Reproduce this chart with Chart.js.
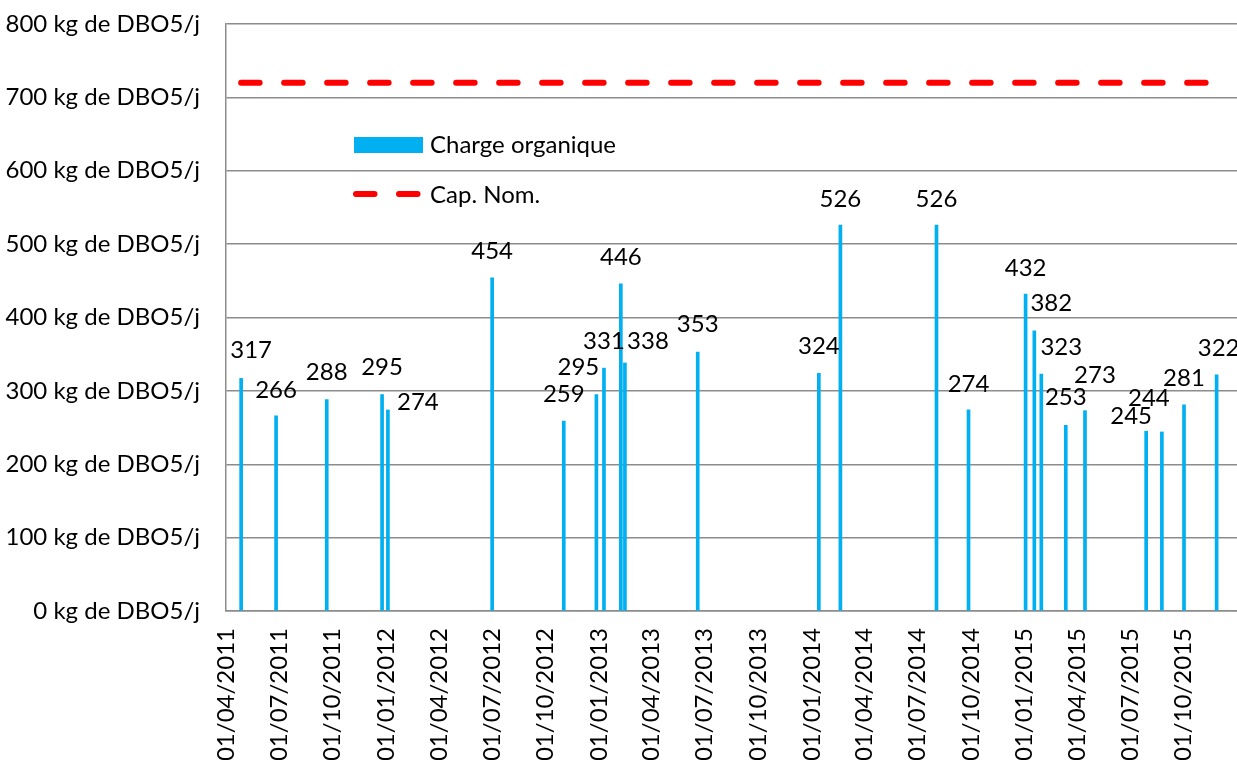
<!DOCTYPE html>
<html>
<head>
<meta charset="utf-8">
<script src="https://cdn.jsdelivr.net/npm/chart.js@4.4.1/dist/chart.umd.min.js"></script>
<style>
  html, body { margin: 0; padding: 0; background: #fff; }
  #wrap { width: 1237px; height: 760px; }
</style>
</head>
<body>
<div id="wrap"><canvas id="graf" width="1237" height="760"></canvas></div>
<script>
// dates des mesures (jj/mm/aaaa) et charge organique en kg DBO5/j
var dates = ['27/04/2011', '26/06/2011', '21/09/2011', '25/12/2011', '04/01/2012',
             '01/07/2012', '01/11/2012', '27/12/2012', '09/01/2013', '07/02/2013',
             '14/02/2013', '19/06/2013', '13/01/2014', '19/02/2014', '03/08/2014',
             '27/09/2014', '03/01/2015', '18/01/2015', '30/01/2015', '13/03/2015',
             '15/04/2015', '29/07/2015', '25/08/2015', '02/10/2015', '27/11/2015'];
var charge = [317, 266, 288, 295, 274,
              454, 259, 295, 331, 446,
              338, 353, 324, 526, 526,
              274, 432, 382, 323, 253,
              273, 245, 244, 281, 322];

// capacite nominale
var capDates = ['27/04/2011', '27/11/2015'];
var capNom = [720, 720];

// axes
var xTickLabels = ['01/04/2011', '01/07/2011', '01/10/2011', '01/01/2012', '01/04/2012',
                   '01/07/2012', '01/10/2012', '01/01/2013', '01/04/2013', '01/07/2013',
                   '01/10/2013', '01/01/2014', '01/04/2014', '01/07/2014', '01/10/2014',
                   '01/01/2015', '01/04/2015', '01/07/2015', '01/10/2015'];
var xMin = '01/04/2011';
var xMax = '01/01/2016';
var yMax = 800;
var yStep = 100;
var unite = ' kg de DBO5/j';

// decalage manuel des etiquettes [dx, dy] (comme dans le classeur)
var decalEtiq = [[10, -1], [0, 1], [0, 0], [0, 0], [30, 19],
                 [0, 0], [0, 0], [-18, 0], [0, 0], [0, 1],
                 [23, 5], [0, -1], [0, 0], [0, 1], [0, 1],
                 [0, 1], [0, 1], [17, 0], [20, 0], [0, -1],
                 [10, -8], [-15, 12], [-13, -7], [0, 0], [2, 1]];

var BLEU = '#00B0F0';
var ROUGE = '#FF0000';
var GRIS = '#8c8c8c';
var FONT = 'Lato';

function jour(s) {
    var p = s.split('/');
    var t = Date.UTC(+p[2], +p[1] - 1, +p[0]);
    var p0 = xMin.split('/');
    return Math.round((t - Date.UTC(+p0[2], +p0[1] - 1, +p0[0])) / 86400000);
}

function dateTexte(n) {
    var p0 = xMin.split('/');
    var d = new Date(Date.UTC(+p0[2], +p0[1] - 1, +p0[0]) + n * 86400000);
    var dd = ('0' + d.getUTCDate()).slice(-2);
    var mm = ('0' + (d.getUTCMonth() + 1)).slice(-2);
    return dd + '/' + mm + '/' + d.getUTCFullYear();
}

var pointsCharge = [];
for (var i in dates) {
    pointsCharge.push({ x: jour(dates[i]), y: charge[i] });
}
var pointsCap = [];
for (var j in capDates) {
    pointsCap.push({ x: jour(capDates[j]), y: capNom[j] });
}

// etiquettes de valeurs au-dessus des barres
var etiquettes = {
    id: 'etiquettes',
    afterDatasetsDraw: function (chart) {
        var ctx = chart.ctx;
        var meta = chart.getDatasetMeta(0);
        ctx.save();
        ctx.font = '24px ' + FONT;
        ctx.fillStyle = '#000';
        ctx.textAlign = 'center';
        ctx.textBaseline = 'middle';
        meta.data.forEach(function (bar, k) {
            var d = decalEtiq[k] || [0, 0];
            ctx.fillText(String(charge[k]), bar.x + d[0], bar.y - 27 + d[1]);
        });
        ctx.restore();
    }
};

// legende dans la zone de tracé
var legende = {
    id: 'legende',
    afterDraw: function (chart) {
        var ctx = chart.ctx;
        var a = chart.chartArea;
        var x0 = a.left + 128;
        ctx.save();
        ctx.fillStyle = BLEU;
        ctx.fillRect(x0, 137, 69, 16);

        ctx.strokeStyle = ROUGE;
        ctx.lineWidth = 6;
        ctx.lineCap = 'round';
        ctx.setLineDash([18.5, 24.5]);
        ctx.beginPath();
        ctx.moveTo(x0 + 2, 194);
        ctx.lineTo(x0 + 64, 194);
        ctx.stroke();
        ctx.setLineDash([]);

        ctx.font = '24px ' + FONT;
        ctx.fillStyle = '#000';
        ctx.textAlign = 'left';
        ctx.textBaseline = 'middle';
        ctx.fillText('Charge organique', x0 + 76, 145);
        ctx.fillText('Cap. Nom.', x0 + 76, 195);
        ctx.restore();
    }
};

var ctx = document.getElementById('graf');

new Chart(ctx, {
    type: 'bar',
    data: {
        datasets: [{
            type: 'bar',
            label: 'Charge organique',
            data: pointsCharge,
            backgroundColor: BLEU,
            borderWidth: 0,
            barThickness: 3,
            grouped: false,
            order: 2
        }, {
            type: 'line',
            label: 'Cap. Nom.',
            data: pointsCap,
            borderColor: ROUGE,
            borderWidth: 6,
            borderDash: [18.5, 24.5],
            borderCapStyle: 'round',
            pointRadius: 0,
            fill: false,
            order: 1
        }]
    },
    options: {
        responsive: false,
        animation: false,
        layout: { padding: { top: 24, right: 0, bottom: 0, left: 0 } },
        plugins: {
            legend: { display: false },
            tooltip: { enabled: false }
        },
        scales: {
            x: {
                type: 'linear',
                min: jour(xMin),
                max: jour(xMax),
                offset: false,
                grid: { display: false, drawTicks: false },
                border: { display: true, color: GRIS, width: 1.5 },
                ticks: {
                    autoSkip: false,
                    minRotation: 90,
                    maxRotation: 90,
                    padding: 17,
                    color: '#000',
                    font: { family: FONT, size: 24 },
                    callback: function (v) { return dateTexte(v); }
                },
                afterBuildTicks: function (scale) {
                    scale.ticks = xTickLabels.map(function (t) { return { value: jour(t) }; });
                },
                afterFit: function (scale) {
                    scale.height = 149;
                    scale.paddingLeft = 0;
                    scale.paddingRight = 0;
                }
            },
            y: {
                min: 0,
                max: yMax,
                grid: { color: GRIS, lineWidth: 1.5, drawTicks: false },
                border: { display: true, color: GRIS, width: 1.5 },
                ticks: {
                    stepSize: yStep,
                    padding: 26,
                    color: '#000',
                    font: { family: FONT, size: 24 },
                    callback: function (v) { return v + unite; }
                },
                afterFit: function (scale) {
                    scale.width = 226;
                    scale.paddingTop = 0;
                    scale.paddingBottom = 0;
                }
            }
        }
    },
    plugins: [etiquettes, legende]
});
</script>
</body>
</html>
